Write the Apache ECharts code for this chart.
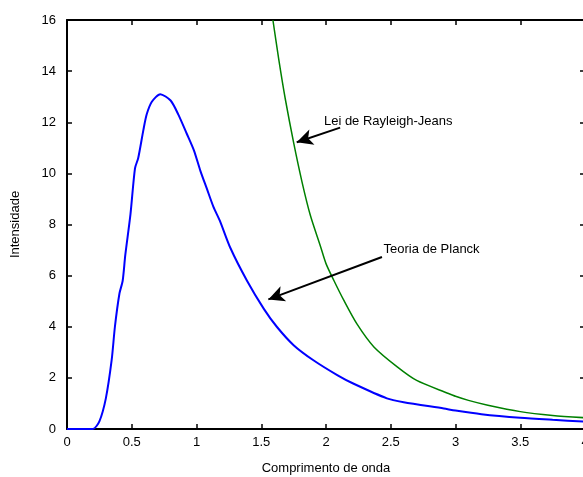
<!DOCTYPE html>
<html>
<head>
<meta charset="utf-8">
<script src="https://cdn.jsdelivr.net/npm/echarts@6/dist/echarts.min.js"></script>
<style>
    html, body { margin: 0; padding: 0; background: #fff; }
    #chart { width: 583px; height: 477px; }
</style>
</head>
<body>
<div id="chart"></div>
<script>
// Teoria de Planck (azul)
let planckX = [0, 0.1, 0.2, 0.25, 0.3, 0.345, 0.37, 0.405, 0.43, 0.45, 0.49, 0.525, 0.55, 0.59, 0.615, 0.655, 0.72, 0.8, 0.86, 0.925, 0.98, 1.03, 1.08, 1.13, 1.18, 1.26, 1.39, 1.52, 1.62, 1.75, 1.9, 2.09, 2.21, 2.47, 2.6, 2.91, 3.0, 3.2, 3.5, 3.75, 4.0];
let planckY = [0, 0, 0, 0.3, 1.2, 2.7, 4.0, 5.3, 5.8, 6.8, 8.4, 10.2, 10.6, 11.7, 12.3, 12.8, 13.1, 12.85, 12.3, 11.55, 10.9, 10.1, 9.4, 8.7, 8.15, 7.1, 5.8, 4.7, 4.0, 3.28, 2.7, 2.1, 1.78, 1.2, 1.05, 0.8, 0.72, 0.58, 0.44, 0.36, 0.29];
// Lei de Rayleigh-Jeans (verde)
let rjX = [1.59, 1.634, 1.686, 1.75, 1.815, 1.879, 1.957, 2.0, 2.06, 2.137, 2.24, 2.37, 2.55, 2.7, 2.94, 3.0, 3.1, 3.25, 3.5, 3.75, 4.0];
let rjY = [16.0, 14.5, 12.9, 11.2, 9.66, 8.36, 7.15, 6.47, 5.82, 5.04, 4.1, 3.21, 2.43, 1.9, 1.4, 1.28, 1.12, 0.93, 0.68, 0.53, 0.44];
// anotações: [texto, x, y] e setas [inicio, fim]
let labels = [['Lei de Rayleigh-Jeans', 1.984, 12.03], ['Teoria de Planck', 2.444, 7.02]];
let arrows = [[[2.109, 11.79], [1.774, 11.22]], [[2.432, 6.73], [1.555, 5.07]]];

function pairs(x, y){
    let out = [];
    x.forEach((v, i) => { out.push([v, y[i]]); });
    return out;
}

let font = 'Liberation Sans, Arial, sans-serif';
let axisLine = { show: true, onZero: false, lineStyle: { color: '#000', width: 2 } };
let axisTick = { show: true, inside: true, length: 5, lineStyle: { color: '#000', width: 1.5 } };

let chart = echarts.init(document.getElementById('chart'));
chart.setOption({
    animation: false,
    backgroundColor: '#fff',
    grid: { left: 67, top: 20, width: 518, height: 409, containLabel: false, outerBoundsMode: 'none' },
    xAxis: [
        {
            type: 'value', min: 0, max: 4, interval: 0.5,
            name: 'Comprimento de onda', nameLocation: 'middle', nameGap: 33,
            nameTextStyle: { color: '#000', fontSize: 13, fontFamily: font },
            axisLine: axisLine, axisTick: axisTick,
            axisLabel: { color: '#000', fontSize: 13, fontFamily: font, margin: 7 },
            splitLine: { show: false }
        },
        {
            type: 'value', position: 'top', min: 0, max: 4, interval: 0.5,
            axisLine: axisLine, axisTick: axisTick,
            axisLabel: { show: false }, splitLine: { show: false }
        }
    ],
    yAxis: [
        {
            type: 'value', min: 0, max: 16, interval: 2,
            name: 'Intensidade', nameLocation: 'middle', nameGap: 45, nameRotate: 90,
            nameTextStyle: { color: '#000', fontSize: 13, fontFamily: font },
            axisLine: axisLine, axisTick: axisTick,
            axisLabel: { color: '#000', fontSize: 13, fontFamily: font, margin: 11 },
            splitLine: { show: false }
        },
        {
            type: 'value', position: 'right', min: 0, max: 16, interval: 2,
            axisLine: axisLine, axisTick: axisTick,
            axisLabel: { show: false }, splitLine: { show: false }
        }
    ],
    series: [
        {
            name: 'Teoria de Planck',
            type: 'line',
            showSymbol: false,
            clip: true,
            smooth: 0.25,
            lineStyle: { color: '#0000ff', width: 2 },
            data: pairs(planckX, planckY),
            markLine: {
                silent: true,
                symbol: ['none', 'arrow'],
                symbolSize: [12, 16],
                label: { show: false },
                lineStyle: { color: '#000', width: 2, type: 'solid' },
                data: arrows.map((a) => [{ coord: a[0] }, { coord: a[1] }])
            },
            markPoint: {
                silent: true,
                symbol: 'circle',
                symbolSize: 0,
                label: {
                    show: true, position: 'right', distance: 0,
                    color: '#000', fontSize: 13, fontFamily: font,
                    formatter: (p) => p.name
                },
                data: labels.map((l) => ({ name: l[0], coord: [l[1], l[2]] }))
            }
        },
        {
            name: 'Lei de Rayleigh-Jeans',
            type: 'line',
            showSymbol: false,
            clip: true,
            smooth: 0.25,
            lineStyle: { color: '#008000', width: 1.5 },
            data: pairs(rjX, rjY)
        }
    ]
});
</script>
</body>
</html>
